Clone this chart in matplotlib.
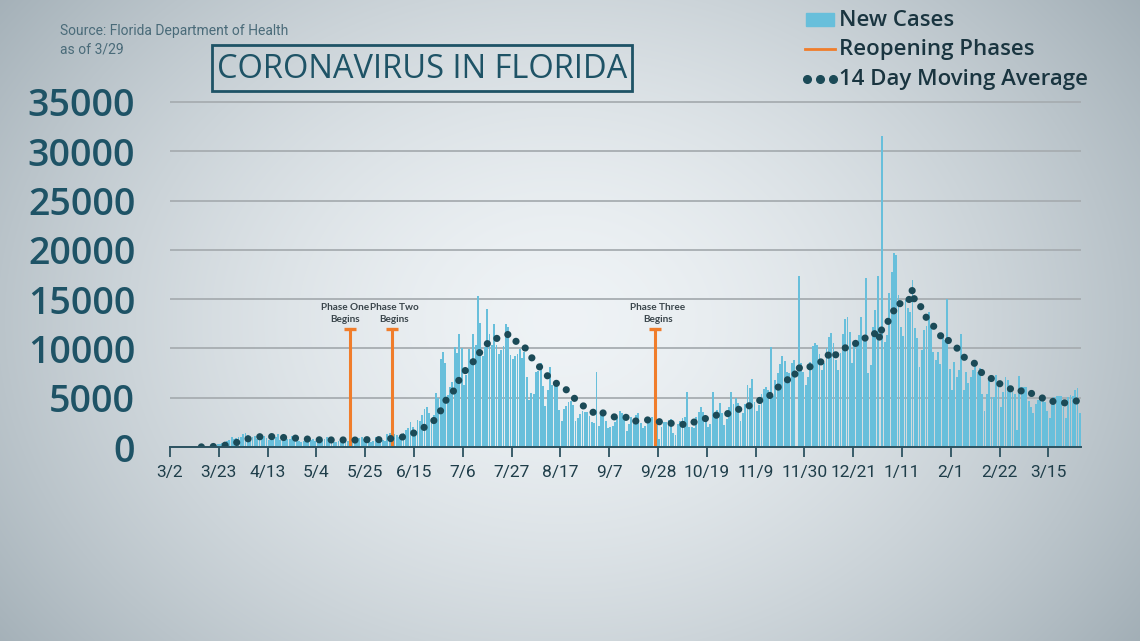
import numpy as np
import pandas as pd
import matplotlib
matplotlib.use('Agg')
import matplotlib.pyplot as plt
from matplotlib.patches import Rectangle
from matplotlib.lines import Line2D

# Daily new cases (Florida DOH), one list per month
mar_2020 = [1, 1, 1, 2, 1, 4, 3,
            1, 5, 8, 14, 20, 30, 40,
            45, 60, 110, 140, 150, 250, 260,
            320, 450, 500, 620, 760, 990, 780,
            880, 1050]
apr_2020 = [1050, 1350, 1380, 1200, 1000,
            1050, 1100, 800, 1150, 1100, 1150, 900,
            700, 950, 850, 1050, 1300, 750, 650,
            900, 850, 800, 1100, 800, 750, 650,
            550, 600, 700, 800]
may_2020 = [750, 850, 650,
            550, 600, 700, 850, 1000, 800, 600,
            500, 550, 650, 800, 900, 750, 600,
            550, 650, 800, 750, 900, 1050, 800,
            650, 500, 550, 650, 1000, 950, 750]
jun_2020 = [670, 620, 1320, 1420, 1310, 1270, 1180,
            970, 1100, 1370, 1700, 1900, 2580, 2020,
            1760, 2780, 2610, 3210, 3820, 4050, 3490,
            2930, 3290, 5510, 5000, 8940, 9590, 8530,
            5270, 6090]
jul_2020 = [6560, 10110, 9490, 11460, 10060,
            6340, 7350, 9990, 8940, 11430, 10360, 15300,
            12620, 9190, 10180, 13960, 11470, 10330, 12480,
            10350, 9440, 9790, 10250, 12440, 12200, 9340,
            8890, 9230, 9450, 9960, 9010]
aug_2020 = [9640, 7100,
            4750, 5450, 5410, 7650, 7690, 8500, 6230,
            4160, 5830, 8110, 6240, 6150, 6350, 3780,
            2680, 3840, 4120, 4560, 4680, 4310, 2670,
            2900, 3300, 3700, 3600, 3500, 3100, 2500,
            2400]
sep_2020 = [7570, 2100, 3200, 3300, 2600, 1900,
            2000, 2100, 2500, 3000, 3700, 3400, 2900,
            1600, 2300, 3000, 2700, 3200, 3400, 2400,
            1900, 2100, 2800, 2900, 3000, 3000, 2400,
            800, 2000, 2500]
oct_2020 = [2500, 2700, 2800, 1400,
            1200, 2300, 2600, 2900, 3000, 5600, 2000,
            2000, 1900, 3000, 3500, 4100, 3600, 2900,
            2000, 2300, 5600, 3200, 3800, 4500, 3400,
            2200, 2800, 4100, 5600, 4400, 5000]
nov_2020 = [4500,
            2600, 3400, 4400, 6300, 6000, 6900, 4600,
            3700, 4300, 5400, 5900, 6100, 5800, 10100,
            5200, 6800, 7500, 8400, 9200, 8700, 7600,
            7500, 8500, 8800, 0, 17300, 8500, 7600,
            6300]
dec_2020 = [7100, 8600, 10200, 10600, 10300, 9400,
            7800, 8500, 10000, 11200, 11600, 10600, 8800,
            7800, 9500, 11500, 13000, 13200, 11700, 8500,
            10200, 10500, 11400, 13200, 11000, 17100, 7500,
            8300, 12200, 13900, 17300]
jan_2021 = [0, 31500, 10700,
            11400, 15600, 17800, 19700, 19500, 15400, 12200,
            11300, 14900, 14100, 13700, 16900, 12100, 11100,
            8100, 9800, 11900, 12300, 13700, 12200, 9600,
            8800, 9600, 8400, 11200, 10900, 15000, 7900]
feb_2021 = [5800, 8600, 7100, 7800, 11500, 5800, 7600,
            6500, 7100, 7800, 8400, 7600, 8000, 5400,
            3700, 5400, 7100, 5100, 5100, 7300, 6700,
            4100, 5600, 7100, 6800, 5600, 5600, 5400]
mar_2021 = [1700, 7200, 6100, 6100, 6100, 4700, 4100,
            3400, 4400, 4800, 4800, 5100, 4600, 3700,
            2900, 4400, 5100, 5200, 5200, 5200, 4100,
            2900, 5100, 5300, 5200, 5800, 6000, 3400]

start_date = '2020-03-02'
tick_dates = ['2020-03-02', '2020-03-23', '2020-04-13', '2020-05-04', '2020-05-25',
              '2020-06-15', '2020-07-06', '2020-07-27', '2020-08-17', '2020-09-07',
              '2020-09-28', '2020-10-19', '2020-11-09', '2020-11-30', '2020-12-21',
              '2021-01-11', '2021-02-01', '2021-02-22', '2021-03-15']
tick_labels = ['3/2', '3/23', '4/13', '5/4', '5/25', '6/15', '7/6', '7/27', '8/17',
               '9/7', '9/28', '10/19', '11/9', '11/30', '12/21', '1/11', '2/1',
               '2/22', '3/15']
phase_dates = ['2020-05-18', '2020-06-05', '2020-09-26']
phase_labels = ['Phase One\nBegins', 'Phase Two\nBegins', 'Phase Three\nBegins']
phase_text_shift = [-2.0, 1.0, 1.5]   # nudge labels apart (days)
phase_top = 12000
y_ticks = [0, 5000, 10000, 15000, 20000, 25000, 30000, 35000]

BAR = '#68bfdb'
DOT = '#1b4a57'
ORANGE = '#f07d2b'
TEAL = '#1e5366'
DARK = '#1a3540'

W, H = 1140, 641


def fx(px):
    return px / W


def fy(py):
    return 1 - py / H


cases = pd.Series(mar_2020 + apr_2020 + may_2020 + jun_2020 + jul_2020 + aug_2020 +
                  sep_2020 + oct_2020 + nov_2020 + dec_2020 + jan_2021 + feb_2021 +
                  mar_2021,
                  index=pd.date_range(start_date, periods=392, freq='D'))
moving_avg = cases.rolling(14).mean()

t0 = pd.Timestamp(start_date)
days = (cases.index - t0).days + 0.5
tick_x = [(pd.Timestamp(d) - t0).days for d in tick_dates]
phase_x = [(pd.Timestamp(d) - t0).days + 0.5 for d in phase_dates]

fig = plt.figure(figsize=(W / 100, H / 100), dpi=100)

# background gradient
bg = fig.add_axes([0, 0, 1, 1], zorder=-10)
yy, xx = np.mgrid[0:H, 0:W]
r = np.sqrt(((xx - 560) / 720) ** 2 + ((yy - 320) / 560) ** 2)
t = np.clip(r, 0, 1) ** 1.6
c0 = np.array([0.935, 0.952, 0.963])
c1 = np.array([0.63, 0.68, 0.71])
img = c0 * (1 - t)[..., None] + c1 * t[..., None]
bg.imshow(img, aspect='auto', extent=[0, 1, 0, 1])
bg.axis('off')

ax = fig.add_axes([fx(170), fy(447), fx(1081) - fx(170), fy(100) - fy(447)])
ax.set_facecolor('none')

ax.bar(days, cases.values, width=0.8, color=BAR, zorder=2)
ax.plot(days, moving_avg.values, color=DOT, lw=5.2,
        linestyle=(0, (0.001, 1.65)), dash_capstyle='round', zorder=4)

for x, lab, dx in zip(phase_x, phase_labels, phase_text_shift):
    ax.plot([x, x], [0, phase_top], color=ORANGE, lw=2.2, zorder=3)
    ax.plot(x, phase_top, marker='_', ms=9, mew=2.4, color=ORANGE, zorder=3)
    ax.text(x + dx, phase_top + 500, lab, ha='center', va='bottom', fontsize=7.2,
            fontweight='bold', fontfamily='Lato', color='#3b464c', linespacing=1.4)

ax.set_xlim(0, 392)
ax.set_ylim(0, 35200)
ax.set_yticks(y_ticks)
ax.set_yticklabels([str(v) for v in y_ticks], fontsize=27, fontfamily='Open Sans',
                   fontweight='semibold', color=TEAL)
ax.set_xticks(tick_x)
ax.set_xticklabels(tick_labels, fontsize=12.5, fontfamily='Roboto', color='#1f3e4a')
ax.tick_params(axis='y', length=0, pad=25)
ax.tick_params(axis='x', length=7, width=1.3, color='#2c5260', pad=6)
ax.grid(axis='y', color='#a7adb1', lw=1.3, zorder=1)
ax.set_axisbelow(True)
for side in ['top', 'right', 'left']:
    ax.spines[side].set_visible(False)
ax.spines['bottom'].set_color('#2c5260')
ax.spines['bottom'].set_linewidth(1.4)
ax.spines['bottom'].set_zorder(5)

# source note
fig.text(fx(60), fy(31), 'Source: Florida Department of Health', fontsize=10,
         fontfamily='Roboto', color='#4a6b79', va='center')
fig.text(fx(60), fy(49), 'as of 3/29', fontsize=10, fontfamily='Roboto',
         color='#4a6b79', va='center')

# title box
fig.add_artist(Rectangle((fx(212), fy(91)), fx(632) - fx(212), fy(45) - fy(91),
                         transform=fig.transFigure, fill=False, edgecolor=TEAL, lw=2))
fig.text(fx(422), fy(70), 'CORONAVIRUS IN FLORIDA', fontsize=23.5, fontfamily='Open Sans',
         fontweight='medium', color=TEAL, ha='center', va='center')

# legend
fig.add_artist(Rectangle((fx(806), fy(26)), fx(834) - fx(806), fy(13) - fy(26),
                         transform=fig.transFigure, color=BAR))
fig.add_artist(Line2D([fx(805), fx(835)], [fy(49), fy(49)], transform=fig.transFigure,
                      color=ORANGE, lw=2))
fig.add_artist(Line2D([fx(807), fx(820), fx(833)], [fy(79)] * 3, transform=fig.transFigure,
                      ls='none', marker='o', ms=5.5, color=DOT))
for py, lab in zip([20, 49, 79], ['New Cases', 'Reopening Phases', '14 Day Moving Average']):
    fig.text(fx(839), fy(py), lab, fontsize=16, fontfamily='Open Sans',
             fontweight='semibold', color=DARK, va='center')

fig.savefig('out.png', dpi=100)
